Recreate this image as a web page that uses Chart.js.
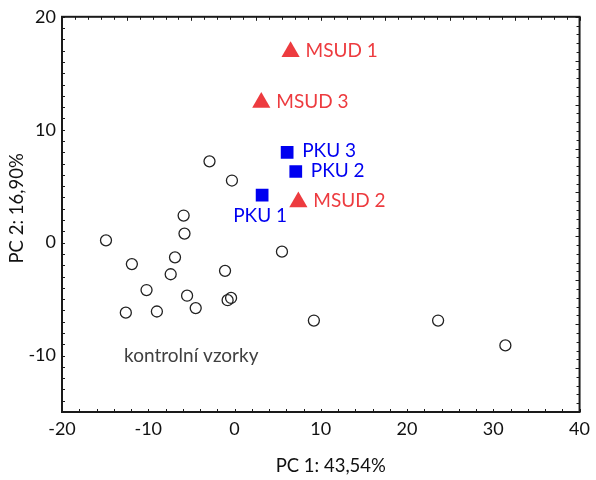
<!DOCTYPE html>
<html>
<head>
<meta charset="utf-8">
<script src="https://cdn.jsdelivr.net/npm/chart.js@4.4.1/dist/chart.umd.min.js"></script>
<style>
  body { margin: 0; background: #fff; }
  #wrap { width: 596px; height: 480px; }
</style>
</head>
<body>
<div id="wrap"><canvas id="pca" width="596" height="480"></canvas></div>
<script>
// --- data ---
const xTicks = [-20, -10, 0, 10, 20, 30, 40];
const yTicks = [-10, 0, 10, 20];
const xTitle = "PC 1: 43,54%";
const yTitle = "PC 2: 16,90%";

const controlName = "kontrolní vzorky";
const controlX = [-2.9, -0.3, -5.9, -5.8, -14.9, 5.5, -11.9, -6.9, -7.4, -1.1, -10.2, -5.5, -4.5, -0.8, -0.4, -12.6, -9.0, 9.2, 23.6, 31.4];
const controlY = [7.2, 5.5, 2.4, 0.8, 0.2, -0.8, -1.9, -1.3, -2.8, -2.5, -4.2, -4.7, -5.8, -5.1, -4.9, -6.2, -6.1, -6.9, -6.9, -9.1];

const pkuLabels = ["PKU 1", "PKU 2", "PKU 3"];
const pkuX = [3.2, 7.1, 6.1];
const pkuY = [4.2, 6.3, 8.0];

const msudLabels = ["MSUD 1", "MSUD 2", "MSUD 3"];
const msudX = [6.5, 7.4, 3.1];
const msudY = [16.9, 3.6, 12.4];

const toPoints = (xs, ys) => xs.map((x, i) => ({ x: x, y: ys[i] }));

const RED = "#ed3b3f";
const BLUE = "#0000f0";
const FONT = "Lato, 'Open Sans', sans-serif";

/* ---------------- plugin: frame, inward ticks, titles, point labels ---------------- */
const decorations = {
    id: "decorations",
    afterDraw(chart) {
        const { ctx, chartArea: a, scales } = chart;
        const sx = scales.x, sy = scales.y;
        ctx.save();

        // frame
        ctx.strokeStyle = "#1a1a1a";
        ctx.lineWidth = 2;
        ctx.strokeRect(a.left, a.top, a.right - a.left, a.bottom - a.top);

        // inward ticks
        ctx.lineWidth = 1;
        ctx.beginPath();
        for (let v = -20; v <= 40; v += 2) {       // bottom
            const p = Math.round(sx.getPixelForValue(v)) + 0.5;
            ctx.moveTo(p, a.bottom); ctx.lineTo(p, a.bottom - 3);
        }
        for (let v = -15; v <= 20; v += 1) {       // left
            const p = Math.round(sy.getPixelForValue(v)) + 0.5;
            ctx.moveTo(a.left, p); ctx.lineTo(a.left + 3, p);
        }
        for (let i = 0; i <= 40; i++) {            // top (8 major / 40 minor)
            const p = Math.round(sx.getPixelForValue(-20 + i * 1.5)) + 0.5;
            const len = i % 5 === 0 ? 4 : 3;
            ctx.moveTo(p, a.top); ctx.lineTo(p, a.top + len);
        }
        for (let i = 0; i <= 45; i++) {            // right (9 major / 45 minor)
            const p = Math.round(sy.getPixelForValue(-15 + i * 35 / 45)) + 0.5;
            const len = i % 5 === 0 ? 4 : 3;
            ctx.moveTo(a.right, p); ctx.lineTo(a.right - len, p);
        }
        ctx.stroke();

        // axis titles (slightly off-centre, as in the original)
        ctx.fillStyle = "#111";
        ctx.font = "18.5px " + FONT;
        ctx.textAlign = "center";
        ctx.textBaseline = "middle";
        ctx.fillText(xTitle, (a.left + a.right) / 2 + 10, 466);
        ctx.save();
        ctx.translate(17, (a.top + a.bottom) / 2 - 6);
        ctx.rotate(-Math.PI / 2);
        ctx.fillText(yTitle, 0, 0);
        ctx.restore();

        // point labels
        ctx.font = "19px " + FONT;
        chart.data.datasets.forEach((ds, di) => {
            if (!ds.pointLabels) return;
            const meta = chart.getDatasetMeta(di);
            meta.data.forEach((el, i) => {
                const txt = ds.pointLabels[i];
                ctx.fillStyle = ds.labelColor;
                if (ds.labelsBelow && ds.labelsBelow.includes(txt)) {
                    ctx.textAlign = "center";
                    ctx.fillText(txt, el.x - 2, el.y + 21);
                } else {
                    ctx.textAlign = "left";
                    ctx.fillText(txt, el.x + 15, el.y - 1);
                }
            });
        });

        // group caption
        ctx.fillStyle = "#404040";
        ctx.textAlign = "left";
        ctx.fillText(controlName, sx.getPixelForValue(-12.8), sy.getPixelForValue(-10.0));

        ctx.restore();
    }
};

new Chart(document.getElementById("pca"), {
    type: "scatter",
    data: {
        datasets: [
            {
                label: controlName,
                data: toPoints(controlX, controlY),
                pointStyle: "circle",
                pointRadius: 5.5,
                pointHoverRadius: 5.5,
                pointBorderWidth: 1.3,
                pointBorderColor: "#222",
                pointBackgroundColor: "rgba(255,255,255,0)"
            },
            {
                label: "PKU",
                data: toPoints(pkuX, pkuY),
                pointStyle: "rect",
                pointRadius: 9,
                pointHoverRadius: 9,
                pointBorderWidth: 0,
                pointBackgroundColor: BLUE,
                pointLabels: pkuLabels,
                labelColor: BLUE,
                labelsBelow: ["PKU 1"]
            },
            {
                label: "MSUD",
                data: toPoints(msudX, msudY),
                pointStyle: "triangle",
                pointRadius: 10.5,
                pointHoverRadius: 10.5,
                pointBorderWidth: 0,
                pointBackgroundColor: RED,
                pointLabels: msudLabels,
                labelColor: RED
            }
        ]
    },
    options: {
        responsive: false,
        animation: false,
        layout: { autoPadding: false, padding: { top: 16, right: 13, left: 8, bottom: 0 } },
        plugins: {
            legend: { display: false },
            tooltip: { enabled: false }
        },
        scales: {
            x: {
                type: "linear",
                min: -20,
                max: 40,
                afterBuildTicks: s => { s.ticks = xTicks.map(v => ({ value: v })); },
                afterFit: s => { s.height = 68; },
                grid: { display: false, drawTicks: false },
                border: { display: false },
                ticks: { color: "#111", font: { family: FONT, size: 18 }, padding: 6, maxRotation: 0 },
                title: { display: false }
            },
            y: {
                type: "linear",
                min: -15,
                max: 20,
                afterBuildTicks: s => { s.ticks = yTicks.map(v => ({ value: v })); },
                afterFit: s => { s.width = 54; },
                grid: { display: false, drawTicks: false },
                border: { display: false },
                ticks: { color: "#111", font: { family: FONT, size: 18 }, padding: 6 },
                title: { display: false }
            }
        }
    },
    plugins: [decorations]
});
</script>
</body>
</html>
